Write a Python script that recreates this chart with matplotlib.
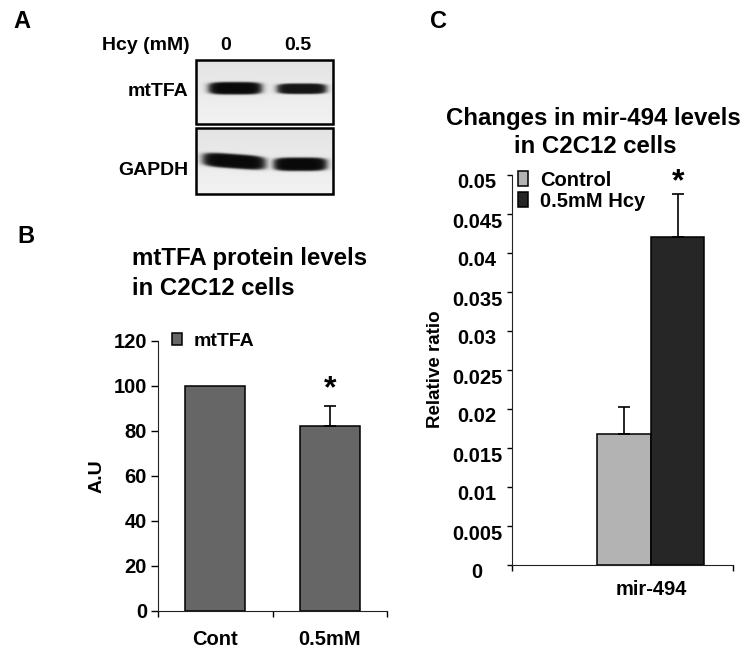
import numpy as np
import matplotlib
matplotlib.use('Agg')
import matplotlib.pyplot as plt
from matplotlib.patches import Rectangle
from matplotlib.ticker import FuncFormatter
from matplotlib.transforms import ScaledTranslation

plt.rcParams['font.family'] = ['Liberation Sans', 'DejaVu Sans']
plt.rcParams['font.weight'] = 'bold'
plt.rcParams['axes.labelweight'] = 'bold'

# panel A: western blot
blot_lanes = ['0', '0.5']
blot_proteins = ['mtTFA', 'GAPDH']
band_strength = {'mtTFA': [1.0, 0.95], 'GAPDH': [1.0, 1.0]}

# panel B
b_categories = ['Cont', '0.5mM']
b_values = [100, 82]
b_errors = [0, 9]
b_significant = [False, True]
b_series = 'mtTFA'

# panel C
c_category = 'mir-494'
c_series = ['Control', '0.5mM Hcy']
c_values = [0.0167, 0.042]
c_errors = [0.0035, 0.0055]
c_significant = [False, True]

W, H = 750, 659
fig = plt.figure(figsize=(W / 100, H / 100), dpi=100)
fig.patch.set_facecolor('white')

# overlay in pixel coordinates for the blot and free text
ov = fig.add_axes([0, 0, 1, 1])
ov.axis('off')

box_x = (196, 333)
boxes = {'mtTFA': (60, 124), 'GAPDH': (128, 194)}
# cx, half width, cy, half height, tilt
band_shapes = {
    'mtTFA': [(235, 28, 88, 6.5, 0.0), (301.5, 26, 88.5, 5.5, 0.0)],
    'GAPDH': [(234, 33, 161, 7.5, 0.07), (300, 28, 164, 7.0, 0.0)],
}


def blot_box(name):
    x0, x1 = box_x
    y0, y1 = boxes[name]
    xs = np.arange(x0, x1, 0.5)
    ys = np.arange(y0, y1, 0.5)
    X, Y = np.meshgrid(xs, ys)
    bg = 0.89 + 0.06 * (Y - y0) / (y1 - y0)
    dark = np.zeros_like(X)
    for (cx, hw, cy, hh, tilt), s in zip(band_shapes[name], band_strength[name]):
        yc = cy + tilt * (X - cx)
        r = (np.abs((X - cx) / hw) ** 4 + np.abs((Y - yc) / hh) ** 4) ** 0.25
        d = s / (1 + np.exp((r - 0.95) * 14))
        dark = np.maximum(dark, d)
    img = bg * (1 - dark) + 0.04 * dark
    ov.imshow(img, cmap='gray', vmin=0, vmax=1, extent=(x0, x1, y1, y0),
              interpolation='bilinear', aspect='auto', zorder=1)
    ov.add_patch(Rectangle((x0, y0), x1 - x0, y1 - y0, fill=False,
                           lw=1.8, ec='black', zorder=2))


for p in blot_proteins:
    blot_box(p)

ov.set_xlim(0, W)
ov.set_ylim(H, 0)

ov.text(190, 50, 'Hcy (mM)', ha='right', va='baseline', fontsize=14)
for lx, lab in zip([226, 298], blot_lanes):
    ov.text(lx, 50, lab, ha='center', va='baseline', fontsize=14)
ov.text(188, 96.5, blot_proteins[0], ha='right', va='baseline', fontsize=14)
ov.text(188, 175, blot_proteins[1], ha='right', va='baseline', fontsize=14)

# panel letters and titles
ov.text(13, 28, 'A', ha='left', va='baseline', fontsize=17)
ov.text(17, 243, 'B', ha='left', va='baseline', fontsize=17)
ov.text(430, 28, 'C', ha='left', va='baseline', fontsize=17)
ov.text(132, 265, 'mtTFA protein levels', ha='left', va='baseline', fontsize=17.3)
ov.text(132, 295, 'in C2C12 cells', ha='left', va='baseline', fontsize=17.3)
ov.text(593, 125, 'Changes in mir-494 levels', ha='center', va='baseline', fontsize=17.3)
ov.text(595, 153, 'in C2C12 cells', ha='center', va='baseline', fontsize=17.3)

# ---- panel B ----
ax_b = fig.add_axes([158 / W, 1 - 611 / H, 229 / W, (611 - 340.7) / H])
x = np.arange(len(b_categories))
ax_b.bar(x, b_values, width=0.52, color='#666666', edgecolor='black',
         linewidth=1.1, label=b_series, zorder=2)
err = np.array(b_errors)
m = err > 0
ax_b.errorbar(x[m], np.array(b_values)[m], yerr=[np.zeros(m.sum()), err[m]],
              fmt='none', ecolor='black', elinewidth=1.2, capsize=4,
              capthick=1.2, zorder=3)
for xi, v, e, sig in zip(x, b_values, b_errors, b_significant):
    if sig:
        ax_b.annotate('*', (xi, v + e), xytext=(0, 1), textcoords='offset points',
                      ha='center', va='bottom', fontsize=23)
ax_b.set_xlim(-0.5, len(b_categories) - 0.5)
ax_b.set_ylim(0, 120)
ax_b.set_yticks(range(0, 121, 20))
ax_b.set_xticks(np.arange(len(b_categories) + 1) - 0.5)
ax_b.set_xticklabels([])
ax_b.set_xticks(x, minor=True)
ax_b.set_xticklabels(b_categories, minor=True)
ax_b.tick_params(axis='x', which='minor', length=0, pad=14, labelsize=14.5)
ax_b.tick_params(axis='x', which='major', length=4.5, width=1)
ax_b.tick_params(axis='y', length=5, width=1, pad=3, labelsize=14.5)
ax_b.set_ylabel('A.U', fontsize=14, va='center')
ax_b.yaxis.set_label_coords(-0.266, 0.5)
for s in ['top', 'right']:
    ax_b.spines[s].set_visible(False)
for s in ['left', 'bottom']:
    ax_b.spines[s].set_color('#222222')
ax_b.legend(loc='upper left', bbox_to_anchor=(0.06, 1.03), frameon=False,
            fontsize=14, handlelength=0.55, handleheight=0.55,
            handletextpad=0.55, borderpad=0, borderaxespad=0)

# ---- panel C ----
ax_c = fig.add_axes([511.7 / W, 1 - 564.5 / H, 221 / W, 390 / H])
bw = 0.242
offsets = (np.arange(len(c_series)) - (len(c_series) - 1) / 2) * bw
c_colors = ['#b3b3b3', '#262626']
for off, v, e, sig, lab, col in zip(offsets, c_values, c_errors, c_significant,
                                     c_series, c_colors):
    ax_c.bar(off, v, width=bw, color=col, edgecolor='black', linewidth=1.1,
             label=lab, zorder=2)
    ax_c.errorbar(off, v, yerr=[[0], [e]], fmt='none', ecolor='black',
                  elinewidth=1.2, capsize=4.5, capthick=1.2, zorder=3)
    if sig:
        ax_c.annotate('*', (off, v + e), xytext=(0, -2), textcoords='offset points',
                      ha='center', va='bottom', fontsize=23)
ax_c.set_xlim(-0.63, 0.37)
ax_c.set_ylim(0, 0.05)
ax_c.set_yticks(np.linspace(0, 0.05, 11))
ax_c.yaxis.set_major_formatter(FuncFormatter(lambda v, p: f'{round(v, 3):g}'))
ax_c.set_xticks([-0.63, 0.37])
ax_c.set_xticklabels([])
ax_c.set_xticks([0], minor=True)
ax_c.set_xticklabels([c_category], minor=True)
ax_c.tick_params(axis='x', which='minor', length=0, pad=11, labelsize=14.5)
ax_c.tick_params(axis='x', which='major', length=4.5, width=1)
ax_c.tick_params(axis='y', length=3.5, width=1, pad=21.5, labelsize=14.5)
shift = ScaledTranslation(0, -0.065, fig.dpi_scale_trans)
for lbl in ax_c.get_yticklabels():
    lbl.set_ha('center')
    lbl.set_transform(lbl.get_transform() + shift)
ax_c.set_ylabel('Relative ratio', fontsize=13.5, va='center')
ax_c.yaxis.set_label_coords(-0.347, 0.5)
for s in ['top', 'right']:
    ax_c.spines[s].set_visible(False)
for s in ['left', 'bottom']:
    ax_c.spines[s].set_color('#222222')
ax_c.legend(loc='upper left', bbox_to_anchor=(0.03, 1.01), frameon=False,
            fontsize=14.5, handlelength=0.5, handleheight=0.8,
            handletextpad=0.6, labelspacing=0.1, borderpad=0, borderaxespad=0)

fig.savefig('out.png', dpi=100)
